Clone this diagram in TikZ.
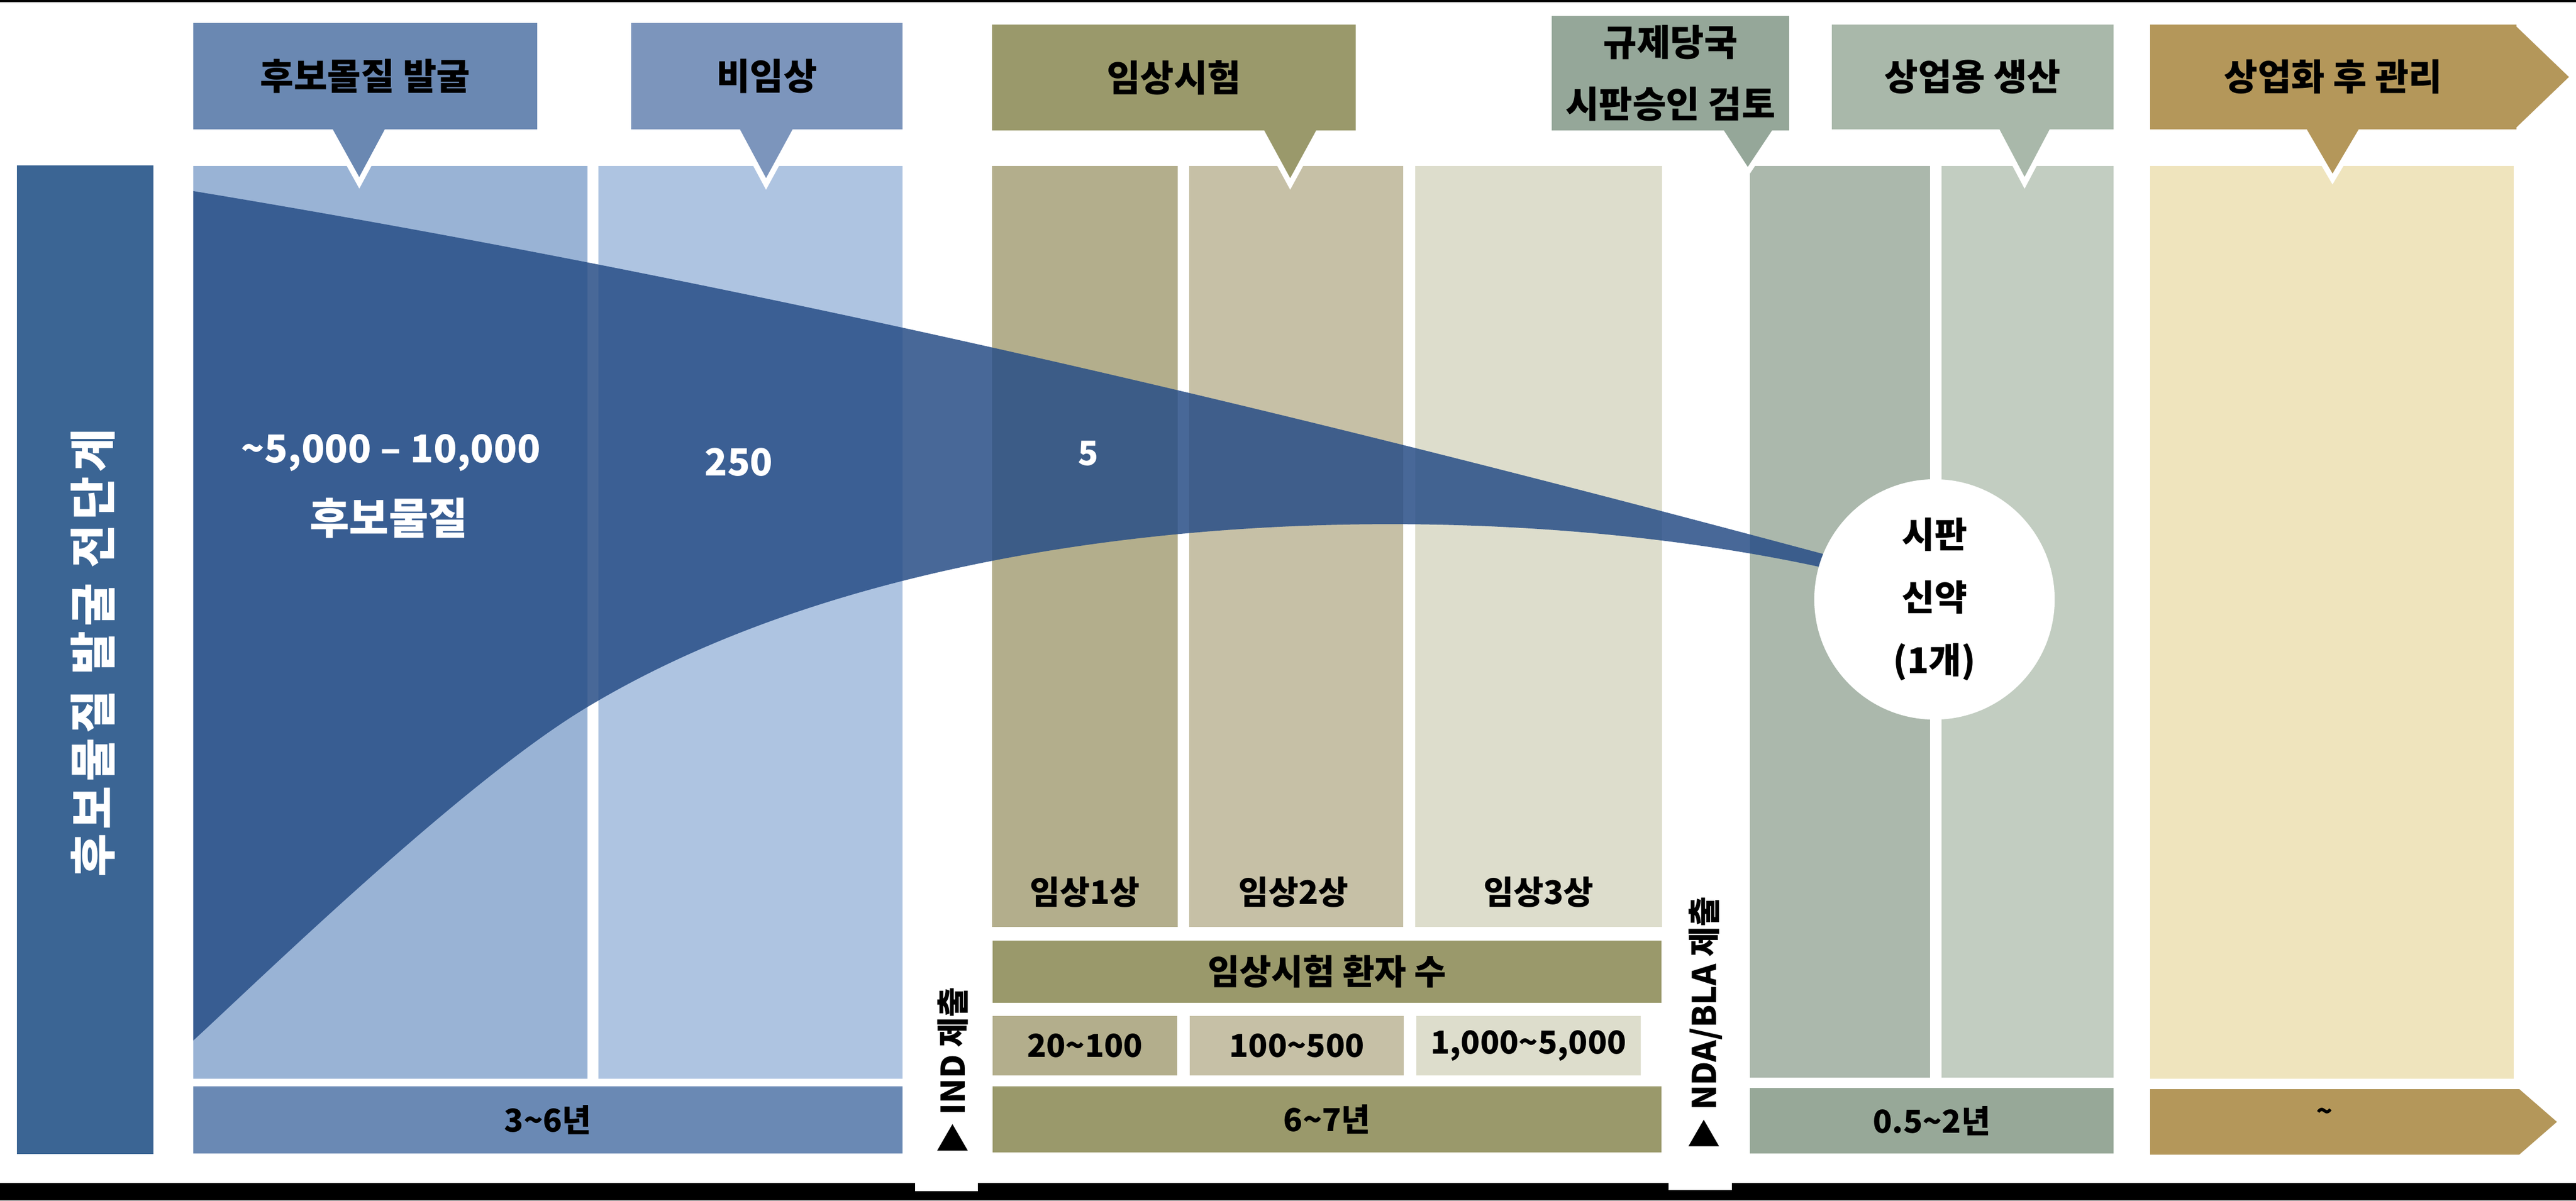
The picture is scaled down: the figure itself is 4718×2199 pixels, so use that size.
\documentclass[tikz,border=0pt]{standalone}
\usepackage{fontspec}
\setmainfont{Noto Sans CJK KR}
\definecolor{barblue}{HTML}{3B6594}
\definecolor{discblue}{HTML}{6A88B2}
\definecolor{precblue}{HTML}{7C95BC}
\definecolor{colone}{HTML}{99B3D5}
\definecolor{coltwo}{HTML}{AEC4E1}
\definecolor{yrsblue}{HTML}{6A89B4}
\definecolor{funnelblue}{RGB}{40,78,135}
\definecolor{clinolive}{HTML}{9A996B}
\definecolor{ph1}{HTML}{B3AE8C}
\definecolor{ph2}{HTML}{C6C0A6}
\definecolor{ph3}{HTML}{DDDDCC}
\definecolor{reggreen}{HTML}{95A799}
\definecolor{regcol}{HTML}{ABB8AC}
\definecolor{prodcol}{HTML}{C2CDC1}
\definecolor{prodgreen}{HTML}{A9B8AA}
\definecolor{yrsgreen}{HTML}{97A898}
\definecolor{postgold}{HTML}{B4975A}
\definecolor{postcol}{HTML}{EFE4BD}

\begin{document}
\begin{tikzpicture}[x=0.01cm, y=-0.01cm,
                    every node/.style={inner sep=0pt, outer sep=0pt},
                    column/.style={rectangle},
                    header/.style={rectangle, align=center, font=\bfseries\fontsize{19}{32}\selectfont},
                    pointer/.style={draw=white, line width=0.1cm},
                    bar/.style={rectangle, font=\bfseries\fontsize{16.5}{20}\selectfont},
                    phase/.style={font=\bfseries\fontsize{17}{20}\selectfont},
                    count/.style={text=white, font=\bfseries\fontsize{20}{26}\selectfont},
                    submit/.style={rotate=90, font=\bfseries\fontsize{17}{20}\selectfont}]
  \useasboundingbox (0,0) rectangle (4718,2199);
  \fill[white] (0,0) rectangle (4718,2167);
  \fill[black] (0,0) rectangle (4718,4);
  \fill[black] (0,2167) rectangle (4718,2199);
  \fill[white] (1676,2160) rectangle (1791,2182);
  \fill[white] (3056,2160) rectangle (3172,2180);

  \node[column, fill=barblue, minimum width=2.50cm, minimum height=18.09cm] (prestage) at (156,1208.5) {};
  \node[column, fill=colone, minimum width=7.22cm, minimum height=16.71cm] (discovery) at (715,1139.5) {};
  \node[column, fill=coltwo, minimum width=5.57cm, minimum height=16.71cm] (preclinical) at (1374.5,1139.5) {};
  \node[column, fill=ph1, minimum width=3.40cm, minimum height=13.94cm] (phaseone) at (1987,1001) {};
  \node[column, fill=ph2, minimum width=3.92cm, minimum height=13.94cm] (phasetwo) at (2374,1001) {};
  \node[column, fill=ph3, minimum width=4.52cm, minimum height=13.94cm] (phasethree) at (2818,1001) {};
  \node[column, fill=regcol, minimum width=3.30cm, minimum height=16.69cm] (review) at (3370,1138.5) {};
  \node[column, fill=prodcol, minimum width=3.15cm, minimum height=16.69cm] (production) at (3713.5,1138.5) {};
  \node[column, fill=postcol, minimum width=6.66cm, minimum height=16.71cm] (postmarket) at (4271,1139.5) {};

  \fill[funnelblue, fill opacity=0.85] (354,350) .. controls (1500,540) and (2500,790) .. (3340,1015)
    -- (3340,1040) .. controls (2700,900) and (1700,920) .. (1076,1295)
    .. controls (850,1430) and (480,1790) .. (354,1906) -- cycle;

  \node[circle, fill=white, minimum size=4.40cm, align=center,
        font=\bfseries\fontsize{18.5}{32.7}\selectfont] (newdrug) at (3543,1098) {시판\\신약\\(1개)};

  \filldraw[pointer, fill=discblue] (597,225) -- (658,335) -- (717,225) -- cycle;
  \filldraw[pointer, fill=precblue] (1343,225) -- (1403,337) -- (1464,225) -- cycle;
  \filldraw[pointer, fill=clinolive] (2302,225) -- (2363,337) -- (2424,225) -- cycle;
  \filldraw[pointer, fill=reggreen] (3142,225) -- (3201,315) -- (3261,225) -- cycle;
  \filldraw[pointer, fill=prodgreen] (3650,225) -- (3708,335) -- (3766,225) -- cycle;
  \filldraw[pointer, fill=postgold] (4212,225) -- (4272,328) -- (4333,225) -- cycle;

  \node[header, fill=discblue, minimum width=6.30cm, minimum height=1.95cm] (discoveryhead) at (669,139.5) {후보몰질 발굴};
  \node[header, fill=precblue, minimum width=4.97cm, minimum height=1.95cm] (preclinicalhead) at (1404.5,139.5) {비임상};
  \node[header, fill=clinolive, minimum width=6.66cm, minimum height=1.94cm] (clinicalhead) at (2150,142) {임상시험};
  \node[header, fill=reggreen, minimum width=4.35cm, minimum height=2.10cm] (reviewhead) at (3059.5,134) {규제당국\\시판승인 검토};
  \node[header, fill=prodgreen, minimum width=5.16cm, minimum height=1.92cm] (productionhead) at (3613,141) {상업용 생산};
  \node[header, fill=postgold, minimum width=6.71cm, minimum height=1.92cm] (posthead) at (4273.5,141) {상업화 후 관리};
  \fill[postgold] (4605,45) -- (4705,141) -- (4605,237) -- cycle;

  \node[rotate=90, text=white, font=\bfseries\fontsize{24.5}{28}\selectfont\addfontfeature{LetterSpace=10}] (prestagelabel) at (170,1196) {후보물질 발굴 전단계};
  \node[count] (candidates) at (716,829) {\textasciitilde5,000 – 10,000};
  \node[count, font=\bfseries\fontsize{22.4}{26}\selectfont] (candidateslabel) at (712,949) {후보물질};
  \node[count, font=\bfseries\fontsize{19.5}{24}\selectfont] (preclinicalcount) at (1353,847) {250};
  \node[count, font=\bfseries\fontsize{17.5}{22}\selectfont] (clinicalcount) at (1993,831) {5};

  \node[phase] (phaseonelabel) at (1987,1634) {임상1상};
  \node[phase] (phasetwolabel) at (2369,1634) {임상2상};
  \node[phase] (phasethreelabel) at (2818,1634) {임상3상};

  \node[bar, fill=yrsblue, minimum width=12.99cm, minimum height=1.23cm] (discoveryyears) at (1003.5,2051.5) {3\textasciitilde6년};
  \node[bar, fill=clinolive, minimum width=12.25cm, minimum height=1.14cm,
        font=\bfseries\fontsize{18}{20}\selectfont] (patients) at (2430.5,1780) {임상시험 환자 수};
  \node[bar, fill=ph1, minimum width=3.38cm, minimum height=1.09cm] (phaseonecount) at (1987,1915.5) {20\textasciitilde100};
  \node[bar, fill=ph2, minimum width=3.92cm, minimum height=1.09cm] (phasetwocount) at (2375,1915.5) {100\textasciitilde500};
  \node[bar, fill=ph3, minimum width=4.11cm, minimum height=1.09cm] (phasethreecount) at (2799.5,1915.5) {1,000\textasciitilde5,000};
  \node[bar, fill=clinolive, minimum width=12.25cm, minimum height=1.21cm] (clinicalyears) at (2430.5,2050.5) {6\textasciitilde7년};
  \node[bar, fill=yrsgreen, minimum width=6.66cm, minimum height=1.20cm] (reviewyears) at (3538,2053) {0.5\textasciitilde2년};
  \fill[postgold] (3938,1995) -- (4614,1995) -- (4683,2055) -- (4614,2115) -- (3938,2115) -- cycle;
  \node[font=\bfseries\fontsize{14}{16}\selectfont] (postyears) at (4257,2042) {\textasciitilde};

  \node[submit] (ind) at (1745,1962) {▶ IND 제출};
  \node[submit] (nda) at (3124,1875) {▶ NDA/BLA 제출};
\end{tikzpicture}
\end{document}
